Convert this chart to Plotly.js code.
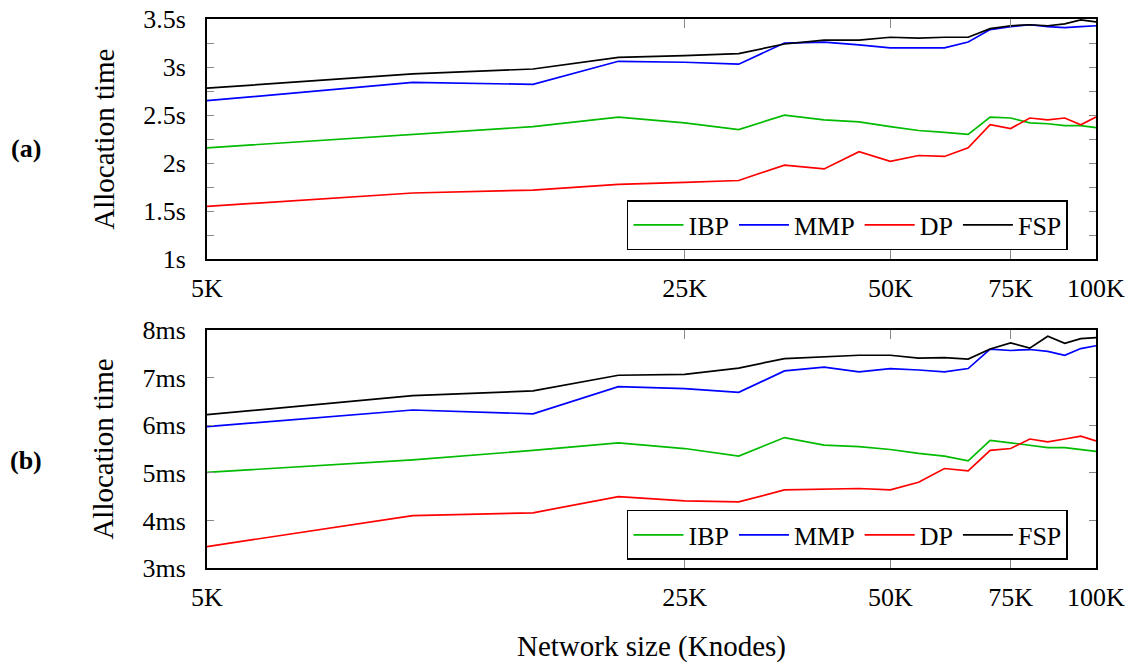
<!DOCTYPE html>
<html>
<head>
<meta charset="utf-8">
<script src="https://cdn.plot.ly/plotly-3.0.1.min.js"></script>
<style>html,body{margin:0;padding:0;background:#fff;}#chart{width:1135px;height:669px;}</style>
</head>
<body>
<div id="chart"></div>
<script>
// Network size (Knodes)
const sizes = [5,10,15,20,25,30,35,40,45,50,55,60,65,70,75,80,85,90,95,100];

// (a) allocation time in seconds
const ibpA = [2.16,2.30,2.38,2.48,2.42,2.35,2.50,2.45,2.43,2.38,2.34,2.32,2.30,2.48,2.47,2.42,2.41,2.39,2.39,2.37];
const mmpA = [2.65,2.84,2.82,3.06,3.05,3.03,3.25,3.26,3.23,3.20,3.20,3.20,3.26,3.39,3.42,3.44,3.42,3.41,3.42,3.43];
const dpA  = [1.55,1.69,1.72,1.78,1.80,1.82,1.98,1.94,2.12,2.02,2.08,2.07,2.16,2.40,2.36,2.47,2.45,2.47,2.40,2.48];
const fspA = [2.78,2.93,2.98,3.10,3.12,3.14,3.24,3.28,3.28,3.31,3.30,3.31,3.31,3.40,3.43,3.44,3.43,3.45,3.49,3.47];

// (b) allocation time in milliseconds
const ibpB = [5.01,5.27,5.47,5.63,5.51,5.35,5.74,5.58,5.55,5.49,5.41,5.35,5.25,5.68,5.63,5.58,5.53,5.53,5.49,5.45];
const mmpB = [5.97,6.32,6.24,6.81,6.77,6.69,7.14,7.22,7.12,7.19,7.16,7.12,7.19,7.60,7.57,7.59,7.55,7.47,7.61,7.67];
const dpB  = [3.45,4.10,4.16,4.50,4.41,4.39,4.64,4.66,4.67,4.64,4.80,5.09,5.04,5.47,5.51,5.71,5.65,5.71,5.77,5.67];
const fspB = [6.22,6.62,6.72,7.05,7.07,7.20,7.40,7.44,7.47,7.47,7.41,7.42,7.39,7.60,7.73,7.62,7.87,7.72,7.82,7.84];

// tick labels
const xTickVals = [5,25,50,75,100];
const xTickText = ['5K','25K','50K','75K','100K'];
const yTickValsA = [1,1.25,1.5,1.75,2,2.25,2.5,2.75,3,3.25,3.5];
const yTickTextA = ['1s','','1.5s','','2s','','2.5s','','3s','','3.5s'];
const yTickValsB = [3,4,5,6,7,8];
const yTickTextB = ['3ms','4ms','5ms','6ms','7ms','8ms'];

const seriesNames = ['IBP','MMP','DP','FSP'];
const seriesColors = ['#00bb00','#0000ff','#ff0000','#000000'];

const FONT = 'Liberation Serif';

function mk(y, i, xa, ya, leg) {
  return {x: sizes, y: y, name: seriesNames[i], type: 'scatter', mode: 'lines',
    line: {color: seriesColors[i], width: 1.7}, xaxis: xa, yaxis: ya, legend: leg};
}
const traces = [
  mk(ibpA,0,'x','y','legend'), mk(mmpA,1,'x','y','legend'), mk(dpA,2,'x','y','legend'), mk(fspA,3,'x','y','legend'),
  mk(ibpB,0,'x2','y2','legend2'), mk(mmpB,1,'x2','y2','legend2'), mk(dpB,2,'x2','y2','legend2'), mk(fspB,3,'x2','y2','legend2')
];

function xAxis(anchor, withTitle) {
  const a = {type:'log', range:[Math.log10(5), 2], anchor: anchor, domain:[0,1],
    tickmode:'array', tickvals: xTickVals, ticktext: xTickText,
    ticks:'inside', ticklen:9, tickwidth:1, tickcolor:'#888',
    showline:true, linewidth:2, linecolor:'black', mirror:'ticks',
    showgrid:false, zeroline:false, ticklabelstandoff:5,
    tickfont:{family:FONT, size:26, color:'black', weight:'normal'}};
  if (withTitle) a.title = {text:'Network size (Knodes)', font:{family:FONT, size:29, color:'black'}, standoff:24};
  return a;
}
function yAxis(anchor, dom, range, tv, tt) {
  return {anchor: anchor, domain: dom, range: range,
    tickmode:'array', tickvals: tv, ticktext: tt,
    ticks:'inside', ticklen:7, tickwidth:1, tickcolor:'#888',
    showline:true, linewidth:2, linecolor:'black', mirror:'ticks',
    showgrid:false, zeroline:false, ticklabelstandoff:14,
    tickfont:{family:FONT, size:26, color:'black', weight:'normal'},
    title:{text:'Allocation time', font:{family:FONT, size:29, color:'black'}, standoff:20}};
}
function legendBox(y) {
  return {orientation:'h', x:0.9685, xanchor:'right', y:y, yanchor:'bottom',
    bgcolor:'white', bordercolor:'black', borderwidth:1.5, itemwidth:50,
    font:{family:FONT, size:26, color:'black', weight:'normal'}, traceorder:'normal', itemclick:false};
}

const layout = {
  width:1135, height:669,
  margin:{l:207, r:39, t:19, b:101},
  paper_bgcolor:'white', plot_bgcolor:'white',
  font:{family:FONT, size:26, color:'black'},
  showlegend:true,
  xaxis: xAxis('y', false),
  yaxis: yAxis('x', [0.5623,1], [1,3.5], yTickValsA, yTickTextA),
  xaxis2: xAxis('y2', true),
  yaxis2: yAxis('x2', [0,0.4335], [3,8], yTickValsB, yTickTextB),
  legend: legendBox(0.5792),
  legend2: legendBox(0.0146),
  annotations:[
    {text:'<b>(a)</b>', xref:'paper', yref:'paper', x:-0.2036, y:0.765, showarrow:false, xanchor:'center', yanchor:'middle', font:{family:FONT, size:26, color:'black'}},
    {text:'<b>(b)</b>', xref:'paper', yref:'paper', x:-0.2036, y:0.1967, showarrow:false, xanchor:'center', yanchor:'middle', font:{family:FONT, size:26, color:'black'}}
  ],
  hovermode:false
};

Plotly.newPlot('chart', traces, layout, {staticPlot:true, displayModeBar:false});
</script>
</body>
</html>
